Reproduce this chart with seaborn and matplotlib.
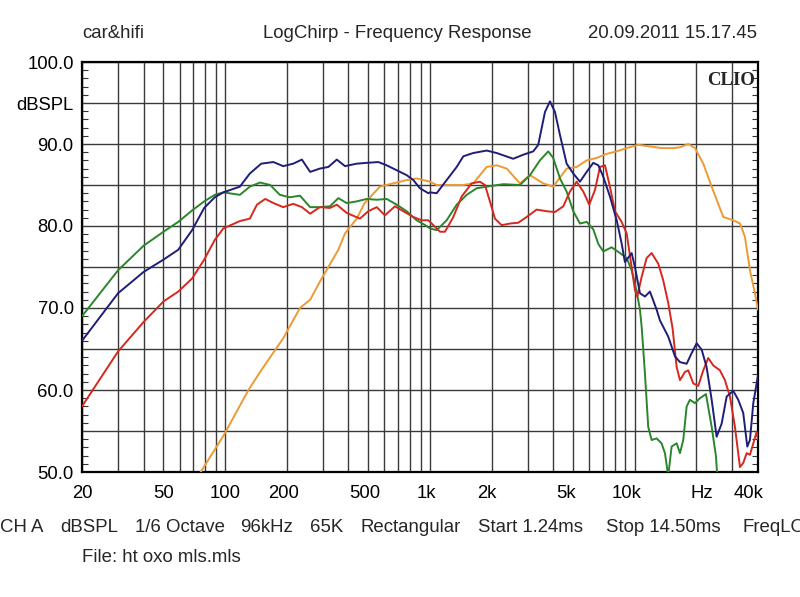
import numpy as np
import pandas as pd
import matplotlib
matplotlib.use("Agg")
import matplotlib.pyplot as plt
from matplotlib.ticker import FixedLocator, MultipleLocator
from matplotlib.transforms import ScaledTranslation
import seaborn as sns

# ---------------- data ----------------
blue_freq = [20, 30, 40, 50, 59, 69, 79, 89, 98, 118, 132, 150, 172, 192, 215, 237, 260, 290,
             319, 351, 385, 439, 491, 560, 615, 688, 770, 830, 894, 982, 1001, 1079, 1207, 1351,
             1456, 1628, 1893, 2118, 2552, 2858, 3196, 3380, 3646, 3856, 4080, 4316, 4652, 5012,
             5404, 5826, 6276, 6644, 7024, 7568, 8166, 8630, 8958, 9662, 10024, 10608, 11220,
             11868, 12794, 13274, 14582, 15724, 16636, 17934, 18968, 20070, 21240, 22440, 23760,
             25120, 26580, 28120, 30280, 32040, 33880, 35460, 36540, 37940, 40000]
blue_db = [66.0, 71.8, 74.4, 75.9, 77.1, 79.5, 82.2, 83.5, 84.1, 84.8, 86.4, 87.6, 87.8, 87.3,
           87.6, 88.1, 86.6, 87.0, 87.2, 88.1, 87.3, 87.6, 87.7, 87.8, 87.4, 86.8, 86.2, 85.6,
           84.6, 84.0, 84.1, 84.0, 85.6, 87.2, 88.5, 88.9, 89.2, 88.9, 88.2, 88.7, 89.1, 89.9,
           93.9, 95.2, 93.9, 91.1, 87.6, 86.4, 85.4, 86.6, 87.7, 87.4, 86.0, 83.6, 80.7, 77.9,
           75.6, 76.7, 75.0, 71.8, 71.4, 72.0, 69.8, 68.5, 66.5, 64.1, 63.4, 63.2, 64.5, 65.7,
           64.9, 62.8, 58.8, 54.3, 55.9, 59.2, 59.9, 58.8, 57.2, 53.1, 53.9, 58.4, 61.8]

green_freq = [20, 30, 40, 50, 59, 69, 79, 89, 98, 118, 132, 148, 166, 185, 207, 232, 260, 290,
              325, 357, 392, 439, 491, 550, 615, 688, 770, 861, 964, 1001, 1079, 1207, 1351,
              1512, 1691, 1893, 2282, 2752, 3080, 3444, 3784, 4000, 4316, 4652, 5012, 5404,
              5826, 6276, 6644, 7024, 7716, 8472, 9136, 9662, 10222, 10608, 10814, 11220, 11642,
              12098, 12794, 13522, 14050, 14582, 15140, 16028, 16636, 17260, 17934, 18610,
              19696, 20820, 22280, 23760, 24940, 25300, 26500]
green_db = [69.0, 74.6, 77.6, 79.3, 80.5, 81.9, 83.0, 83.8, 84.1, 83.8, 84.8, 85.3, 85.0, 83.8,
            83.5, 83.7, 82.3, 82.3, 82.4, 83.4, 82.8, 83.0, 83.3, 83.2, 83.3, 82.6, 81.8, 80.7,
            80.0, 79.7, 79.5, 80.7, 82.6, 83.8, 84.6, 84.8, 85.1, 85.0, 86.2, 88.0, 89.1, 88.3,
            85.8, 84.2, 81.8, 80.3, 80.5, 79.6, 77.8, 76.9, 77.4, 76.7, 76.1, 74.6, 72.0, 69.8,
            67.7, 62.0, 55.5, 53.9, 54.1, 53.5, 52.3, 49.5, 53.1, 53.5, 52.3, 53.9, 58.0, 58.8,
            58.4, 59.0, 59.5, 55.5, 51.9, 49.5, 44.0]

red_freq = [20, 30, 40, 50, 59, 69, 79, 89, 98, 118, 132, 143, 157, 172, 192, 215, 237, 260,
            290, 325, 351, 392, 455, 500, 550, 603, 675, 741, 830, 911, 982, 1001, 1079, 1120,
            1184, 1301, 1429, 1600, 1755, 1857, 1964, 2078, 2240, 2460, 2700, 2968, 3320, 3716,
            4080, 4478, 4828, 5206, 5610, 5998, 6398, 6768, 7158, 7568, 8008, 8630, 9136, 9662,
            10024, 10290, 10814, 11438, 12098, 13032, 13774, 14582, 15312, 16028, 16636, 17594,
            18258, 19322, 20430, 21620, 22860, 24180, 26060, 27580, 29180, 30860, 32660, 33880,
            35220, 36540, 37940, 39400, 40000]
red_db = [58.0, 64.7, 68.3, 70.8, 72.0, 73.6, 75.9, 78.3, 79.7, 80.6, 80.9, 82.6, 83.3, 82.8,
          82.3, 82.7, 82.3, 81.5, 82.3, 82.2, 82.6, 81.6, 80.9, 81.8, 82.3, 81.3, 82.4, 81.8,
          81.1, 80.7, 80.7, 80.5, 79.7, 79.3, 79.3, 81.1, 83.6, 85.2, 85.4, 85.0, 83.0, 80.9,
          80.1, 80.3, 80.4, 81.1, 82.0, 81.8, 81.7, 82.4, 84.2, 85.4, 84.2, 82.6, 84.4, 87.2,
          87.4, 84.8, 81.8, 80.5, 79.1, 75.0, 72.2, 71.4, 73.8, 76.1, 76.7, 75.4, 73.4, 70.6,
          67.5, 62.8, 61.2, 62.2, 62.4, 60.8, 60.5, 62.4, 63.9, 63.0, 62.4, 61.2, 59.2, 55.5,
          50.6, 51.1, 52.3, 52.1, 53.5, 54.9, 54.0]

orange_freq = [70, 76, 98, 130, 150, 192, 232, 260, 290, 357, 385, 439, 480, 570, 662, 770,
               861, 964, 1001, 1079, 1207, 1456, 1628, 1893, 2118, 2370, 2752, 3080, 3576, 4000,
               4652, 5206, 5826, 6522, 7296, 8166, 9136, 10408, 11868, 13522, 15418, 16636,
               18258, 19696, 21620, 23760, 27060, 30280, 32660, 34520, 36540, 38640, 40000]
orange_db = [48.7, 50.0, 54.4, 60.0, 62.4, 66.3, 70.0, 71.0, 73.2, 77.1, 79.1, 80.9, 82.8,
             84.8, 85.2, 85.6, 85.8, 85.5, 85.4, 85.0, 85.0, 85.0, 85.2, 87.2, 87.4, 87.0, 85.2,
             86.2, 85.2, 84.8, 87.0, 87.2, 88.0, 88.3, 88.8, 89.1, 89.5, 89.9, 89.7, 89.5, 89.5,
             89.6, 90.0, 89.5, 87.6, 84.8, 81.1, 80.7, 80.3, 78.7, 74.6, 71.8, 69.8]

series_names = ["orange", "green", "red", "blue"]
series_colors = {"orange": "#ec9a34", "green": "#2b862b", "red": "#d6281f", "blue": "#1e1e78"}

y_ticks = [50, 55, 60, 65, 70, 75, 80, 85, 90, 95, 100]
y_labels = ["50.0", "", "60.0", "", "70.0", "", "80.0", "", "90.0", "dBSPL", "100.0"]
x_label_map = {20: "20", 50: "50", 100: "100", 200: "200", 500: "500", 1000: "1k",
               2000: "2k", 5000: "5k", 10000: "10k", 20000: "Hz", 40000: "40k"}

header_left = "car&hifi"
header_mid = "LogChirp - Frequency Response"
header_right = "20.09.2011 15.17.45"
footer_items = [("CH A", 0), ("dBSPL", 60), ("1/6 Octave", 135), ("96kHz", 240), ("65K", 310),
                ("Rectangular", 360), ("Start 1.24ms", 478), ("Stop 14.50ms", 606), ("FreqLO", 743)]
file_text = "File: ht oxo mls.mls"

# ---------------- build frame ----------------
frames = []
for name, fr, db in [("orange", orange_freq, orange_db), ("green", green_freq, green_db),
                     ("red", red_freq, red_db), ("blue", blue_freq, blue_db)]:
    frames.append(pd.DataFrame({"freq": fr, "db": db, "series": name}))
df = pd.concat(frames, ignore_index=True)

# ---------------- style ----------------
sns.set_style("white")
plt.rcParams["font.family"] = ["Liberation Sans", "DejaVu Sans"]

W, H = 800, 597
fig = plt.figure(figsize=(W / 100, H / 100), dpi=100)
ax = fig.add_axes([82 / W, 1 - 472 / H, (758 - 82) / W, (472 - 62) / H])

sns.lineplot(data=df, x="freq", y="db", hue="series", hue_order=series_names,
             palette=series_colors, estimator=None, sort=False, linewidth=1.4,
             legend=False, ax=ax, zorder=3)

ax.set_xscale("log")
ax.set_xlim(20, 40000)
ax.set_ylim(50, 100)

# grid positions
grid_x = []
for dec in [10, 100, 1000, 10000]:
    for m in range(1, 10):
        v = dec * m
        if 20 <= v <= 40000:
            grid_x.append(v)
grid_x.append(40000)
grid_x = sorted(set(grid_x))
ax.xaxis.set_major_locator(FixedLocator(grid_x))
ax.xaxis.set_minor_locator(FixedLocator([]))
ax.set_xticklabels([x_label_map.get(v, "") for v in grid_x])
ax.yaxis.set_major_locator(FixedLocator(y_ticks))
ax.set_yticklabels(y_labels)
ax.yaxis.set_minor_locator(MultipleLocator(1))

ax.tick_params(axis="x", which="major", length=0, pad=9, labelsize=13.3, colors="black")
ax.tick_params(axis="y", which="major", length=0, pad=6, labelsize=13.3, colors="black")
ax.tick_params(axis="y", which="minor", left=True, right=True, direction="in",
               length=4, width=0.8, color="#333333")

# small horizontal nudges of x tick labels, as in the reference
label_dx = {"200": -3, "500": -4, "1k": -4, "2k": -5, "5k": -7, "10k": -8, "Hz": 5, "40k": -9}
for lbl in ax.get_xticklabels():
    dx = label_dx.get(lbl.get_text(), 0)
    if dx:
        lbl.set_transform(lbl.get_transform() + ScaledTranslation(dx / 100, 0, fig.dpi_scale_trans))

ax.grid(True, which="major", axis="both", color="#3a3a3a", linewidth=1.0, zorder=1)
ax.set_axisbelow(True)
for s in ax.spines.values():
    s.set_visible(True)
    s.set_color("black")
    s.set_linewidth(1.6)
ax.set_xlabel("")
ax.set_ylabel("")

# texts
def fx(px):
    return px / W

def fy(py):
    return 1 - py / H

fig.text(fx(82), fy(33), header_left, fontsize=13.4, ha="left", va="center")
fig.text(fx(263), fy(33), header_mid, fontsize=13.4, ha="left", va="center")
fig.text(fx(757), fy(33), header_right, fontsize=13.4, ha="right", va="center")
for txt, px in footer_items:
    fig.text(fx(px), fy(527), txt, fontsize=13.4, ha="left", va="center")
fig.text(fx(82), fy(557), file_text, fontsize=13.4, ha="left", va="center")
ax.text(0.995, 0.976, "CLIO", transform=ax.transAxes, ha="right", va="top",
        fontsize=13.5, fontweight="bold", family=["Liberation Serif", "DejaVu Serif"], zorder=5)

fig.savefig("out.png", dpi=100, facecolor="white")
